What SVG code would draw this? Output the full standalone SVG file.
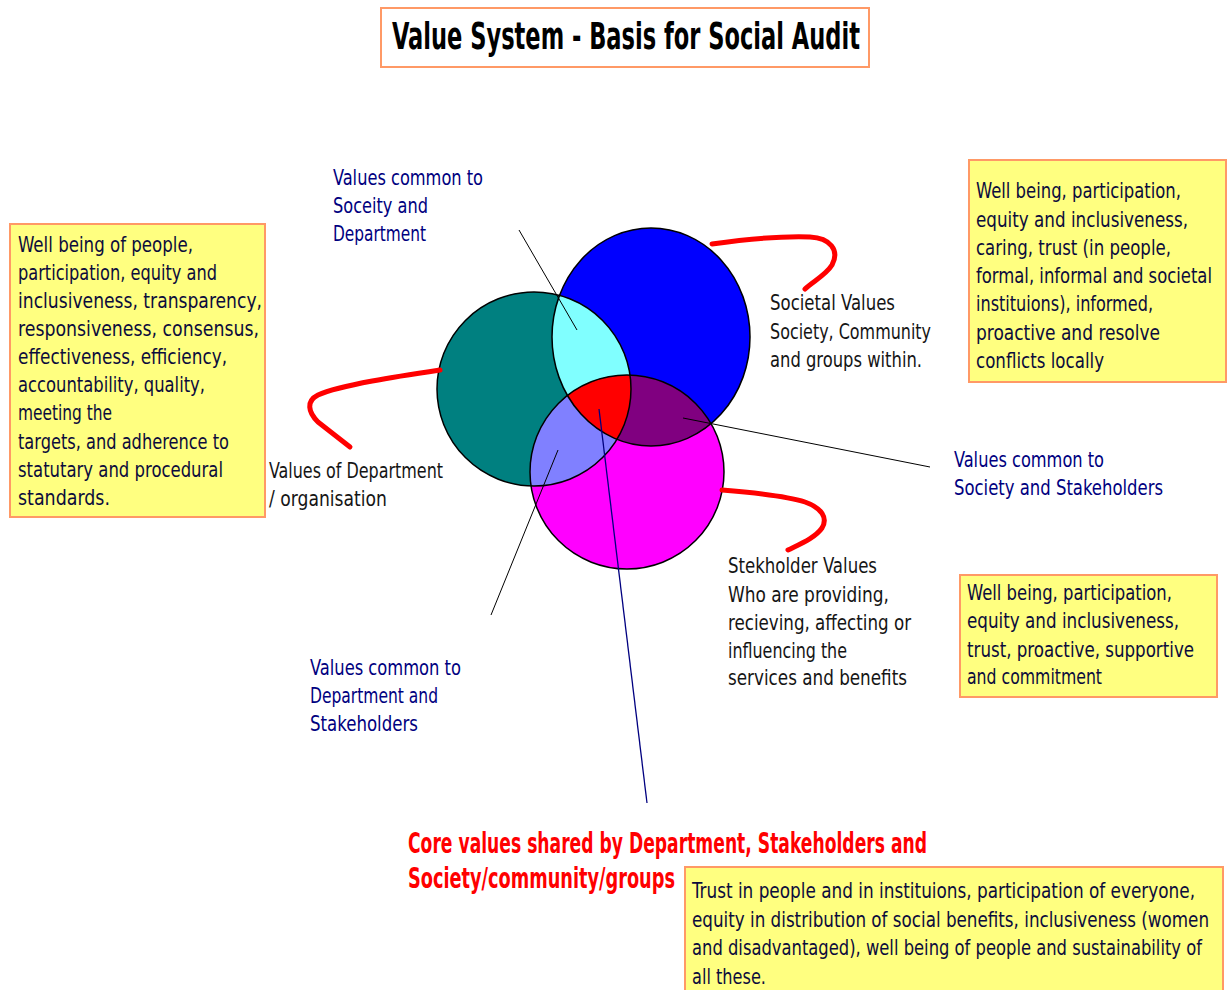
<svg xmlns="http://www.w3.org/2000/svg" width="1231" height="990" viewBox="0 0 1231 990">
<defs>
<style>
text{font-family:"Liberation Sans Narrow","DejaVu Sans Condensed","Liberation Sans",sans-serif;}
.box{fill:#FFFF80;stroke:#FF9966;stroke-width:2;}
.bt{font-size:21px;fill:#0c0c3c;}
.lb{font-size:21px;fill:#000080;}
.dk{font-size:21px;fill:#151515;}
.title{font-size:38px;font-weight:bold;fill:#000;}
.core{font-size:28px;font-weight:bold;fill:#FF0000;}
.ol{fill:none;stroke:#000;stroke-width:1.5;}
.ln{stroke:#000;stroke-width:1;fill:none;}
.rc{stroke:#FF0000;stroke-width:5;fill:none;stroke-linecap:round;stroke-linejoin:round;}
</style>
<clipPath id="cT"><circle cx="534" cy="389" r="97"/></clipPath>
<clipPath id="cB"><ellipse cx="651" cy="337" rx="99" ry="109"/></clipPath>
</defs>
<rect width="1231" height="990" fill="#fff"/>

<g id="title">
<rect x="381" y="8" width="488" height="59" fill="#fff" stroke="#FF9966" stroke-width="2"/>
<text class="title" x="392" y="49" textLength="468" lengthAdjust="spacingAndGlyphs">Value System - Basis for Social Audit</text>
</g>

<g id="venn">
<circle cx="534" cy="389" r="97" fill="#008080"/>
<ellipse cx="651" cy="337" rx="99" ry="109" fill="#0000FF"/>
<circle cx="627" cy="472" r="97" fill="#FF00FF"/>
<g clip-path="url(#cT)"><ellipse cx="651" cy="337" rx="99" ry="109" fill="#80FFFF"/></g>
<g clip-path="url(#cT)"><circle cx="627" cy="472" r="97" fill="#8080FF"/></g>
<g clip-path="url(#cB)"><circle cx="627" cy="472" r="97" fill="#800080"/></g>
<g clip-path="url(#cT)"><g clip-path="url(#cB)"><circle cx="627" cy="472" r="97" fill="#FF0000"/></g></g>
<circle class="ol" cx="534" cy="389" r="97"/>
<ellipse class="ol" cx="651" cy="337" rx="99" ry="109"/>
<circle class="ol" cx="627" cy="472" r="97"/>
</g>

<g id="connectors">
<line class="ln" x1="519" y1="230" x2="577" y2="330"/>
<line class="ln" x1="683" y1="418" x2="930" y2="467"/>
<line class="ln" x1="558" y1="450" x2="491" y2="615"/>
<line x1="599" y1="409" x2="647" y2="803" stroke="#000080" stroke-width="1.3"/>
<path class="rc" d="M440,370 C400,376 340,385 318,395 C306,401 308,412 318,422 L350,447"/>
<path class="rc" d="M712,244 C740,240 780,236 810,237 C830,238 840,250 832,265 C826,275 812,282 805,289"/>
<path class="rc" d="M722,490 C760,493 790,497 805,502 C822,508 828,518 822,528 C815,538 800,544 788,550"/>
</g>

<g id="box-department">
<rect class="box" x="10" y="224" width="255" height="293"/>
<text class="bt" x="18" y="252" textLength="175" lengthAdjust="spacingAndGlyphs">Well being of people,</text>
<text class="bt" x="18" y="280" textLength="199" lengthAdjust="spacingAndGlyphs">participation, equity and</text>
<text class="bt" x="18" y="308" textLength="244" lengthAdjust="spacingAndGlyphs">inclusiveness, transparency,</text>
<text class="bt" x="18" y="336" textLength="241" lengthAdjust="spacingAndGlyphs">responsiveness, consensus,</text>
<text class="bt" x="18" y="364" textLength="209" lengthAdjust="spacingAndGlyphs">effectiveness, efficiency,</text>
<text class="bt" x="18" y="392" textLength="187" lengthAdjust="spacingAndGlyphs">accountability, quality,</text>
<text class="bt" x="18" y="420" textLength="94" lengthAdjust="spacingAndGlyphs">meeting the</text>
<text class="bt" x="18" y="449" textLength="211" lengthAdjust="spacingAndGlyphs">targets, and adherence to</text>
<text class="bt" x="18" y="477" textLength="205" lengthAdjust="spacingAndGlyphs">statutary and procedural</text>
<text class="bt" x="18" y="505" textLength="92" lengthAdjust="spacingAndGlyphs">standards.</text>
</g>

<g id="box-society">
<rect class="box" x="969" y="160" width="257" height="222"/>
<text class="bt" x="976" y="198" textLength="205" lengthAdjust="spacingAndGlyphs">Well being, participation,</text>
<text class="bt" x="976" y="227" textLength="212" lengthAdjust="spacingAndGlyphs">equity and inclusiveness,</text>
<text class="bt" x="976" y="255" textLength="195" lengthAdjust="spacingAndGlyphs">caring, trust (in people,</text>
<text class="bt" x="976" y="283" textLength="236" lengthAdjust="spacingAndGlyphs">formal, informal and societal</text>
<text class="bt" x="976" y="311" textLength="177" lengthAdjust="spacingAndGlyphs">instituions), informed,</text>
<text class="bt" x="976" y="340" textLength="184" lengthAdjust="spacingAndGlyphs">proactive and resolve</text>
<text class="bt" x="976" y="368" textLength="128" lengthAdjust="spacingAndGlyphs">conflicts locally</text>
</g>

<g id="box-stakeholder">
<rect class="box" x="960" y="575" width="257" height="122"/>
<text class="bt" x="967" y="600" textLength="205" lengthAdjust="spacingAndGlyphs">Well being, participation,</text>
<text class="bt" x="967" y="628" textLength="212" lengthAdjust="spacingAndGlyphs">equity and inclusiveness,</text>
<text class="bt" x="967" y="657" textLength="227" lengthAdjust="spacingAndGlyphs">trust, proactive, supportive</text>
<text class="bt" x="967" y="684" textLength="135" lengthAdjust="spacingAndGlyphs">and commitment</text>
</g>

<g id="box-core">
<rect x="685" y="867" width="538" height="123" fill="#FFFF80"/>
<path d="M685,990 V867 H1223 V990" fill="none" stroke="#FF9966" stroke-width="2"/>
<text class="bt" x="692" y="898" textLength="503" lengthAdjust="spacingAndGlyphs">Trust in people and in instituions, participation of everyone,</text>
<text class="bt" x="692" y="927" textLength="517" lengthAdjust="spacingAndGlyphs">equity in distribution of social benefits, inclusiveness (women</text>
<text class="bt" x="692" y="955" textLength="510" lengthAdjust="spacingAndGlyphs">and disadvantaged), well being of people and sustainability of</text>
<text class="bt" x="692" y="984" textLength="74" lengthAdjust="spacingAndGlyphs">all these.</text>
</g>

<g id="label-soc-dept">
<text class="lb" x="333" y="185" textLength="150" lengthAdjust="spacingAndGlyphs">Values common to</text>
<text class="lb" x="333" y="213" textLength="95" lengthAdjust="spacingAndGlyphs">Soceity and</text>
<text class="lb" x="333" y="241" textLength="93" lengthAdjust="spacingAndGlyphs">Department</text>
</g>

<g id="label-dept">
<text class="dk" x="269" y="478" textLength="174" lengthAdjust="spacingAndGlyphs">Values of Department</text>
<text class="dk" x="269" y="506" textLength="118" lengthAdjust="spacingAndGlyphs">/ organisation</text>
</g>

<g id="label-societal">
<text class="dk" x="770" y="310" textLength="125" lengthAdjust="spacingAndGlyphs">Societal Values</text>
<text class="dk" x="770" y="339" textLength="161" lengthAdjust="spacingAndGlyphs">Society, Community</text>
<text class="dk" x="770" y="367" textLength="152" lengthAdjust="spacingAndGlyphs">and groups within.</text>
</g>

<g id="label-soc-stake">
<text class="lb" x="954" y="467" textLength="150" lengthAdjust="spacingAndGlyphs">Values common to</text>
<text class="lb" x="954" y="495" textLength="209" lengthAdjust="spacingAndGlyphs">Society and Stakeholders</text>
</g>

<g id="label-stakeholder">
<text class="dk" x="728" y="573" textLength="149" lengthAdjust="spacingAndGlyphs">Stekholder Values</text>
<text class="dk" x="728" y="602" textLength="161" lengthAdjust="spacingAndGlyphs">Who are providing,</text>
<text class="dk" x="728" y="630" textLength="183" lengthAdjust="spacingAndGlyphs">recieving, affecting or</text>
<text class="dk" x="728" y="658" textLength="119" lengthAdjust="spacingAndGlyphs">influencing the</text>
<text class="dk" x="728" y="685" textLength="179" lengthAdjust="spacingAndGlyphs">services and benefits</text>
</g>

<g id="label-dept-stake">
<text class="lb" x="310" y="675" textLength="151" lengthAdjust="spacingAndGlyphs">Values common to</text>
<text class="lb" x="310" y="703" textLength="128" lengthAdjust="spacingAndGlyphs">Department and</text>
<text class="lb" x="310" y="731" textLength="108" lengthAdjust="spacingAndGlyphs">Stakeholders</text>
</g>

<g id="label-core">
<text class="core" x="408" y="853" textLength="519" lengthAdjust="spacingAndGlyphs">Core values shared by Department, Stakeholders and</text>
<text class="core" x="408" y="888" textLength="267" lengthAdjust="spacingAndGlyphs">Society/community/groups</text>
</g>
</svg>
